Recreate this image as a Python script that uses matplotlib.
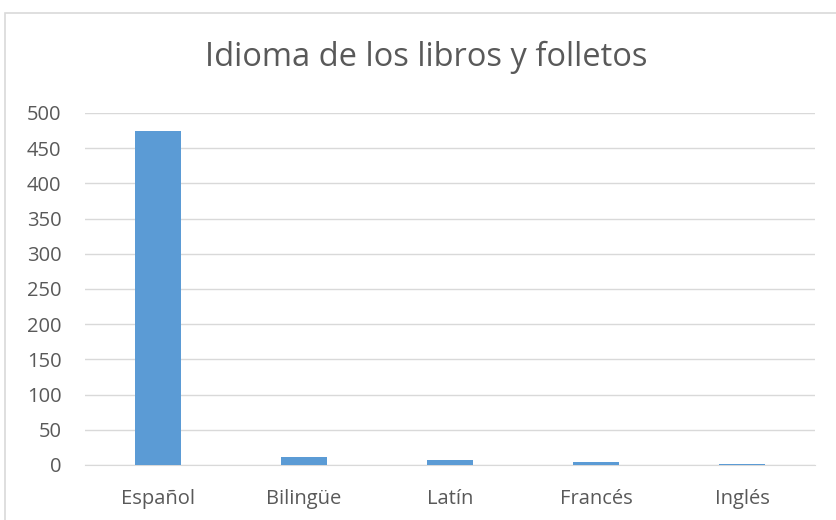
import matplotlib.pyplot as plt
from matplotlib.patches import Rectangle

# Datos del gráfico
idiomas = ['Español', 'Bilingüe', 'Latín', 'Francés', 'Inglés']
cantidades = [475, 11, 7, 4, 1]
marcas_y = list(range(0, 501, 50))

plt.rcParams['font.family'] = ['Open Sans', 'DejaVu Sans']

fig = plt.figure(figsize=(8.36, 5.2), dpi=100)
ax = fig.add_axes([85 / 836, 1 - 465 / 520, 730 / 836, 352 / 520])

# Marco exterior del gráfico
fig.patches.append(Rectangle((5 / 836, -0.1), 2, 1.1 - 13 / 520,
                             transform=fig.transFigure, fill=False,
                             edgecolor='#d9d9d9', linewidth=1.2))

x = range(len(idiomas))
ax.bar(x, cantidades, width=0.315, color='#5b9bd5', zorder=3)

ax.set_xlim(-0.5, len(idiomas) - 0.5)
ax.set_ylim(0, 500)
ax.set_yticks(marcas_y)
ax.set_xticks(list(x))
ax.set_xticklabels(idiomas)
ax.grid(axis='y', color='#d9d9d9', linewidth=1, zorder=0)
ax.tick_params(axis='both', length=0, labelsize=14.5, labelcolor='#595959')
ax.tick_params(axis='x', pad=17)
ax.tick_params(axis='y', pad=17)
for lado in ['top', 'right', 'left']:
    ax.spines[lado].set_visible(False)
ax.spines['bottom'].set_color('#d9d9d9')

fig.text(426 / 836, 1 - 57 / 520, 'Idioma de los libros y folletos',
         ha='center', va='center', fontsize=23.5, color='#595959')

fig.savefig('out.png', dpi=100)
